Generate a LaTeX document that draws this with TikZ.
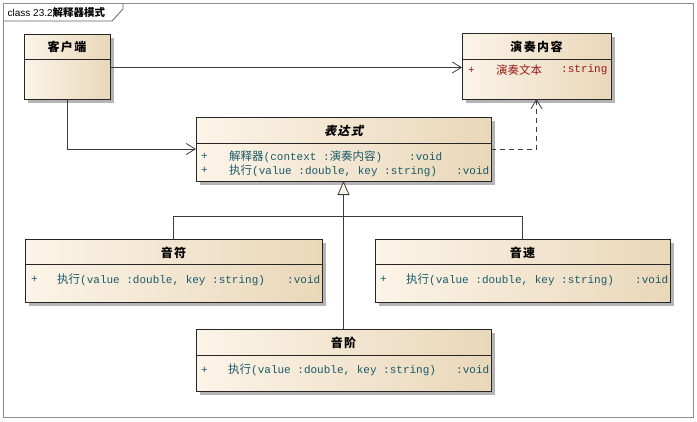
\documentclass[tikz,border=0pt]{standalone}
\usepackage{fontspec}
\setmainfont{Liberation Sans}
\setmonofont{Liberation Mono}
\newfontfamily\cjk{Noto Sans CJK SC}
\newfontfamily\cjkhead[LetterSpace=12]{Noto Sans CJK SC}
\newfontfamily\cjkslant[FakeSlant=0.25,LetterSpace=12]{Noto Sans CJK SC}
\usetikzlibrary{arrows.meta,shadows}
\definecolor{cfl}{HTML}{FCF4E8}
\definecolor{cfr}{HTML}{E9D7B9}
\definecolor{shadowgray}{HTML}{B4B4B4}
\definecolor{opcol}{RGB}{25,90,105}
\definecolor{attcol}{RGB}{150,25,25}
\definecolor{linecol}{HTML}{3C3C3C}
\definecolor{framecol}{HTML}{8C8C8C}
\newcommand\zh[1]{{\cjk\fontsize{11.5}{11}\selectfont #1}}
\tikzset{
  x=1pt, y=-1pt,
  cls/.style={draw=black!85, line width=0.8pt, left color=cfl, right color=cfr,
    drop shadow={shadow xshift=4pt, shadow yshift=-4pt, fill=shadowgray, opacity=1},
    anchor=north west, inner sep=0pt, outer sep=0pt},
  divline/.style={draw=black!85, line width=0.8pt},
  title/.style={font=\cjkhead\bfseries\fontsize{12}{12}\selectfont, inner sep=0pt},
  op/.style={font=\ttfamily\fontsize{11}{11}\selectfont, text=opcol, anchor=west, inner sep=0pt},
  att/.style={op, text=attcol},
  conn/.style={draw=linecol, line width=1pt},
  assoc/.style={conn, -{Straight Barb[length=9pt,width=11pt,line width=0.8pt]}},
  dep/.style={assoc, dash pattern=on 5pt off 4pt},
  gen/.style={conn, -{Triangle[length=14pt,width=12pt,fill=cfl,line width=0.8pt]}},
}
\begin{document}
\begin{tikzpicture}
\useasboundingbox (0,0) rectangle (697,421);
% frame
\draw[framecol, line width=0.8pt] (3,3) rectangle (693,417);
\draw[linecol!80, line width=0.8pt] (3,21) -- (112,21) -- (123,9) -- (123,3);
\node[anchor=west, inner sep=0pt, font=\fontsize{10}{10}\selectfont] (tab) at (7.5,12.5)
  {class 23.2{\cjk\bfseries\fontsize{10.5}{10}\selectfont 解释器模式}};

% classes
\node[cls, minimum width=86, minimum height=65] (kh) at (24,34) {};
\draw[divline] (24,59) -- (110,59);
\node[title] (kh-t) at (67,47) {客户端};

\node[cls, minimum width=149, minimum height=66] (yz) at (462,33) {};
\draw[divline] (462,59) -- (611,59);
\node[title] (yz-t) at (536.5,46.5) {演奏内容};
\node[att] (yz-p) at (468,70) {+};
\node[att] (yz-a) at (496,70) {\zh{演奏文本}};
\node[att] (yz-r) at (561,70) {:string};

\node[cls, minimum width=295, minimum height=64] (bd) at (196,117) {};
\draw[divline] (196,143) -- (491,143);
\node[title, font=\cjkslant\bfseries\fontsize{12}{12}\selectfont] (bd-t) at (343.5,130.5) {表达式};
\node[op] (bd-p1) at (201,156.5) {+};
\node[op] (bd-m1) at (229,156.5) {\zh{解释器}(context :\zh{演奏内容})};
\node[op] (bd-r1) at (409,156.5) {:void};
\node[op] (bd-p2) at (201,170.5) {+};
\node[op] (bd-m2) at (229,170.5) {\zh{执行}(value :double, key :string)};
\node[op] (bd-r2) at (456,170.5) {:void};

\node[cls, minimum width=297, minimum height=63] (yf) at (25,239) {};
\draw[divline] (25,264) -- (322,264);
\node[title] (yf-t) at (173.5,252.5) {音符};
\node[op] (yf-p) at (31,279.5) {+};
\node[op] (yf-m) at (57,279.5) {\zh{执行}(value :double, key :string)};
\node[op] (yf-r) at (287,279.5) {:void};

\node[cls, minimum width=295, minimum height=63] (ys) at (375,239) {};
\draw[divline] (375,264) -- (670,264);
\node[title] (ys-t) at (522.5,252.5) {音速};
\node[op] (ys-p) at (380,279.5) {+};
\node[op] (ys-m) at (406,279.5) {\zh{执行}(value :double, key :string)};
\node[op] (ys-r) at (635,279.5) {:void};

\node[cls, minimum width=295, minimum height=62] (yj) at (196,329) {};
\draw[divline] (196,355) -- (491,355);
\node[title] (yj-t) at (343.5,343) {音阶};
\node[op] (yj-p) at (201,370) {+};
\node[op] (yj-m) at (228,370) {\zh{执行}(value :double, key :string)};
\node[op] (yj-r) at (456,370) {:void};

% connectors
\coordinate (y67) at (0,67.5);
\coordinate (jn) at (344,216.5);
\draw[assoc] (kh.east |- y67) -- (yz.west |- y67);
\draw[assoc] (kh.south) |- (bd.west);
\draw[dep] (bd.east) -| (yz.south);
\draw[conn] (yf.north) |- (jn) -- (ys.north |- jn) -- (ys.north);
\draw[gen] (yj.north) -- (bd.south);
\end{tikzpicture}
\end{document}
